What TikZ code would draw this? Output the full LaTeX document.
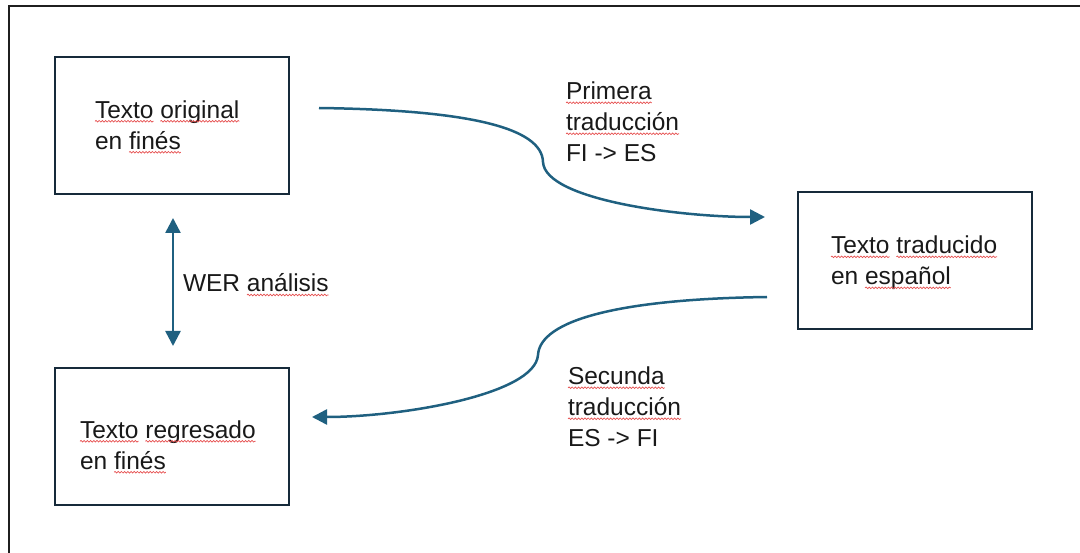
\documentclass[tikz,border=0pt]{standalone}
\usepackage{fontspec}
\setmainfont{Liberation Sans}
\usetikzlibrary{arrows.meta,decorations.pathmorphing}
\definecolor{arrowcol}{RGB}{31,96,128}
\definecolor{boxcol}{RGB}{22,42,58}
\definecolor{wavecol}{RGB}{230,80,80}
\newcommand\wv[1]{\tikz[baseline=(wvn.base)]{\node[inner sep=0pt,outer sep=0pt,anchor=base] (wvn) {#1};\draw[overlay,wavecol,line width=0.7pt,decorate,decoration={snake,amplitude=0.8pt,segment length=3.2pt}] ([yshift=-3pt]wvn.base west) -- ([yshift=-3pt]wvn.base east);}}
\tikzset{
  tip/.tip={Triangle[length=15pt,width=15pt]},
  box/.style={draw=boxcol,line width=2pt,minimum width=234pt,minimum height=137pt,inner sep=0pt},
  txt/.style={inner sep=0pt,outer sep=0pt,align=left,font=\fontsize{24.5}{31}\selectfont,text=black!90},
  conn/.style={draw=arrowcol,line width=2.5pt,-tip},
  frame/.style={draw=black!88,line width=2pt}
}
\begin{document}
\begin{tikzpicture}[x=1pt,y=-1pt]
\useasboundingbox (0,0) rectangle (1080,553);
\draw[frame] (9,554) -- (9,6) -- (1081,6);
\node[box] (b1) at (172,125.5) {};
\node[box] (b2) at (915,260.5) {};
\node[box] (b3) at (172,436.5) {};
\node[txt,anchor=west] (t1) at (95,125) {\wv{Texto} \wv{original}\\en \wv{finés}};
\node[txt,anchor=west] (t2) at (831,263) {\wv{Texto} \wv{traducido}\\en \wv{español}};
\node[txt,anchor=west] (t3) at (80,445) {\wv{Texto} \wv{regresado}\\en \wv{finés}};
\node[txt,anchor=west] (l1) at (566,122) {\wv{Primera}\\\wv{traducción}\\FI -> ES};
\node[txt,anchor=west] (l2) at (568,407) {\wv{Secunda}\\\wv{traducción}\\ES -> FI};
\node[txt,anchor=base west] (l3) at (183,292) {WER \wv{análisis}};
\coordinate (a1s) at (319,108);
\coordinate (a1m) at (543,162);
\coordinate (a1e) at (765,217);
\coordinate (a2s) at (767,297);
\coordinate (a2m) at (538,355);
\coordinate (a2e) at (312,417);
\coordinate (a3s) at (173,218);
\coordinate (a3e) at (173,346);
\draw[conn] (a1s) .. controls (470,110) and (542,128) .. (a1m) .. controls (545,200) and (680,217) .. (a1e);
\draw[conn] (a2s) .. controls (620,299) and (540,320) .. (a2m) .. controls (535,395) and (400,417) .. (a2e);
\draw[conn,tip-tip] (a3s) -- (a3e);
\end{tikzpicture}
\end{document}
